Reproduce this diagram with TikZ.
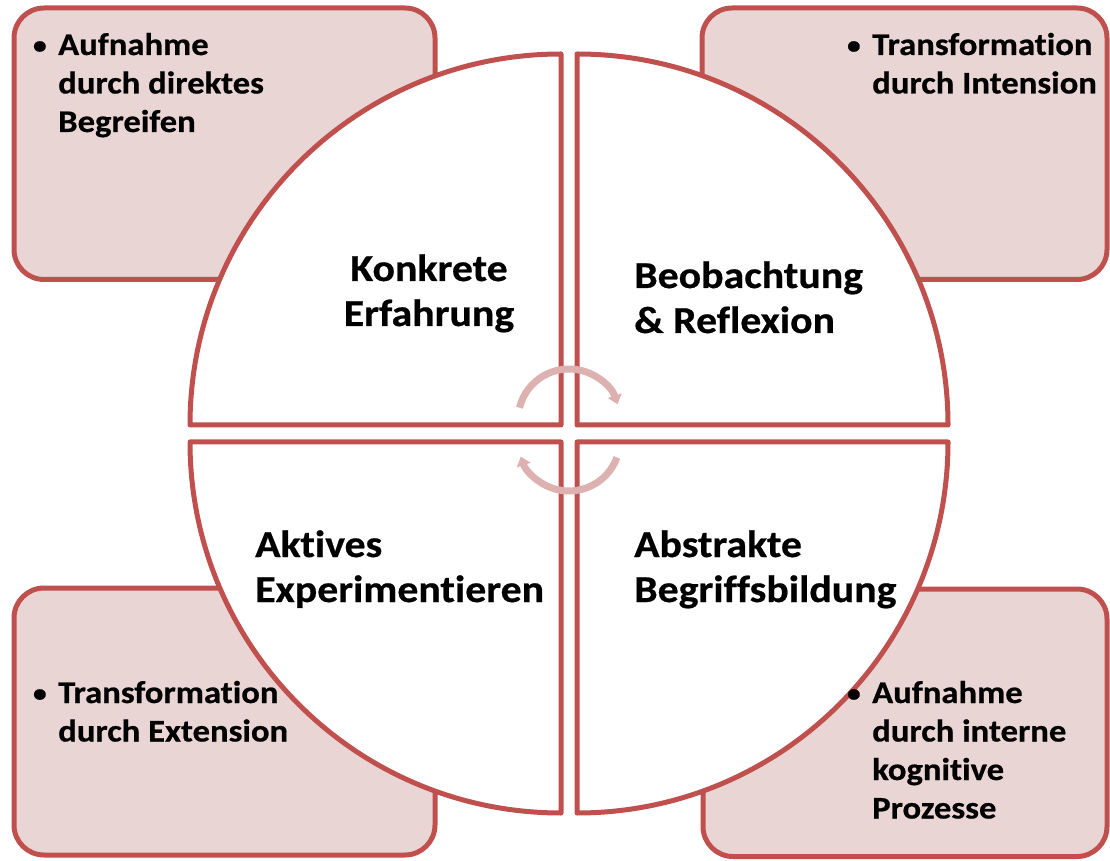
\documentclass[tikz,border=0pt]{standalone}
\usepackage{fontspec}
\setmainfont{Carlito}[FakeStretch=1.1, Ligatures=CommonOff, BoldFeatures={FakeBold=0.6}]
\usetikzlibrary{arrows.meta}
\definecolor{bordred}{HTML}{C0504D}
\definecolor{boxpink}{HTML}{EAD5D5}
\definecolor{cycpink}{HTML}{DDB1B0}
\newcommand{\bul}{\llap{\raisebox{1.5pt}{\fontsize{25}{25}\selectfont•}\hspace{11.5pt}}}
\begin{document}
\begin{tikzpicture}[x=1pt,y=1pt,
  infobox/.style={draw=bordred, fill=boxpink, line width=5pt, rounded corners=30pt},
  quad/.style={draw=bordred, fill=white, line width=5pt, line join=round},
  cyc/.style={draw=cycpink, line width=7pt, -{Triangle[width=14pt,length=9pt]}},
  bigl/.style={inner sep=0pt, font=\fontsize{38}{45}\selectfont\bfseries},
  smalll/.style={inner sep=0pt, font=\fontsize{31.5}{38.5}\selectfont\bfseries}]
\useasboundingbox (0,0) rectangle (1110,860);
% info boxes
\draw[infobox] (14,580.5) rectangle (435,852);
\draw[infobox] (702,580.5) rectangle (1107,852);
\draw[infobox] (14,5) rectangle (435,272);
\draw[infobox] (703,3.5) rectangle (1107,271);
% quadrants
\draw[quad] (561,435) -- ++(-371,0) arc[start angle=180,end angle=90,radius=371] -- cycle;
\draw[quad] (577,435) -- ++(0,371) arc[start angle=90,end angle=0,radius=371] -- cycle;
\draw[quad] (561,418) -- ++(0,-371) arc[start angle=270,end angle=180,radius=371] -- cycle;
\draw[quad] (577,418) -- ++(371,0) arc[start angle=0,end angle=-90,radius=371] -- cycle;
% cycle arrows
\draw[cyc] (569,440) ++(166:51) arc[start angle=166,end angle=18,radius=51];
\draw[cyc] (569,420) ++(-20:51) arc[start angle=-20,end angle=-161,radius=51];
% quadrant labels
\node[bigl, anchor=base] (ke) at (429,579) {\begin{tabular}[t]{@{}c@{}}Konkrete\\Erfahrung\end{tabular}};
\node[bigl, anchor=base west] (br) at (634,572) {\begin{tabular}[t]{@{}l@{}}Beobachtung\\\& Reflexion\end{tabular}};
\node[bigl, anchor=base west] (ae) at (255,303) {\begin{tabular}[t]{@{}l@{}}Aktives\\Experimentieren\end{tabular}};
\node[bigl, anchor=base west] (ab) at (634,303) {\begin{tabular}[t]{@{}l@{}}Abstrakte\\Begriffsbildung\end{tabular}};
% box texts
\node[smalll, anchor=base west] (t1) at (58,805) {\begin{tabular}[t]{@{}l@{}}\bul Aufnahme\\durch direktes\\Begreifen\end{tabular}};
\node[smalll, anchor=base west] (t2) at (872,805) {\begin{tabular}[t]{@{}l@{}}\bul Transformation\\durch Intension\end{tabular}};
\node[smalll, anchor=base west] (t3) at (58,157) {\begin{tabular}[t]{@{}l@{}}\bul Transformation\\durch Extension\end{tabular}};
\node[smalll, anchor=base west] (t4) at (872,157) {\begin{tabular}[t]{@{}l@{}}\bul Aufnahme\\durch interne\\kognitive\\Prozesse\end{tabular}};
\end{tikzpicture}
\end{document}
